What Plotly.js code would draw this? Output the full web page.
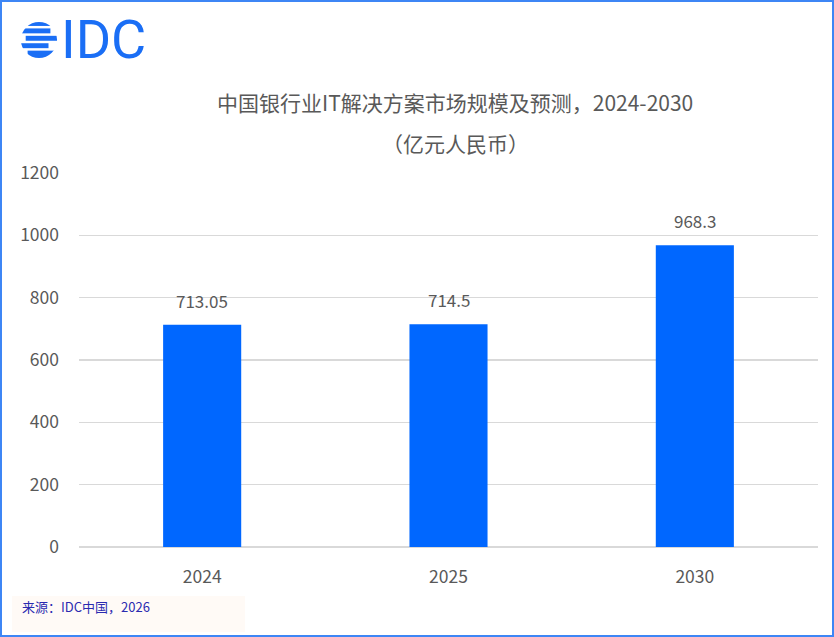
<!DOCTYPE html>
<html>
<head>
<meta charset="utf-8">
<script src="https://cdn.plot.ly/plotly-3.0.1.min.js"></script>
<style>
html,body{margin:0;padding:0;background:#fff;}
#chart{width:834px;height:637px;}
</style>
</head>
<body>
<div id="chart"></div>
<script>
const years = ['2024', '2025', '2030'];
const values = [713.05, 714.5, 968.3];
const valueLabels = ['713.05', '714.5', '968.3'];
const yTicks = [0, 200, 400, 600, 800, 1000, 1200];
const titleLine1 = '中国银行业IT解决方案市场规模及预测，2024-2030';
const titleLine2 = '（亿元人民币）';
const sourceText = '来源：IDC中国，2026';

const W = 834, H = 637;
const M = {l: 79, r: 16, t: 173, b: 90};
const pw = W - M.l - M.r, ph = H - M.t - M.b;
const px = x => (x - M.l) / pw;
const py = y => (H - M.b - y) / ph;

const FONT = '"Noto Sans CJK SC", "Noto Sans", sans-serif';
const GREY = '#595959';

const globeSvg = '<svg xmlns="http://www.w3.org/2000/svg" width="40" height="40" viewBox="0 0 40 40">' +
  '<defs><clipPath id="c"><circle cx="20" cy="20" r="19"/></clipPath></defs>' +
  '<g clip-path="url(#c)" fill="#1a6ef5">' +
  '<rect x="4" y="0" width="32" height="5.2"/>' +
  '<rect x="0" y="7.8" width="32" height="5.2"/>' +
  '<rect x="6" y="15.6" width="34" height="5.2"/>' +
  '<rect x="0" y="23.4" width="30" height="5.2"/>' +
  '<rect x="8" y="31.2" width="32" height="8.8"/>' +
  '</g></svg>';
const globeUri = 'data:image/svg+xml;base64,' + btoa(globeSvg);

const annotations = years.map((yr, i) => ({
  x: i, y: values[i], xref: 'x', yref: 'y',
  text: valueLabels[i], showarrow: false,
  yanchor: 'bottom', yshift: 10,
  font: {family: FONT, size: 17, color: GREY}
}));

annotations.push({
  xref: 'paper', yref: 'paper', x: px(455), y: py(102),
  text: titleLine1, showarrow: false, xanchor: 'center', yanchor: 'middle',
  font: {family: FONT, size: 21, color: GREY}
});
annotations.push({
  xref: 'paper', yref: 'paper', x: px(455), y: py(143),
  text: titleLine2, showarrow: false, xanchor: 'center', yanchor: 'middle',
  font: {family: FONT, size: 21, color: GREY}
});
annotations.push({
  xref: 'paper', yref: 'paper', x: px(20), y: py(606),
  text: sourceText, showarrow: false, xanchor: 'left', yanchor: 'middle',
  font: {family: FONT, size: 13, color: '#2b2bb0'}
});
annotations.push({
  xref: 'paper', yref: 'paper', x: px(59), y: py(40),
  text: 'IDC', showarrow: false, xanchor: 'left', yanchor: 'middle',
  font: {family: 'Roboto, "Noto Sans", sans-serif', size: 54, color: '#1a6ef5'}
});

const shapes = [
  {type: 'rect', xref: 'paper', yref: 'paper', layer: 'below',
   x0: px(12), x1: px(245), y0: py(596), y1: py(632),
   fillcolor: '#fffaf6', line: {width: 0}},
  {type: 'rect', xref: 'paper', yref: 'paper',
   x0: px(1), x1: px(833), y0: py(1), y1: py(636),
   fillcolor: 'rgba(0,0,0,0)', line: {color: '#3d86f5', width: 2}}
];

const data = [{
  type: 'bar', x: years, y: values,
  marker: {color: '#0067ff'}, width: 0.317,
  hoverinfo: 'x+y'
}];

const layout = {
  width: W, height: H,
  margin: M,
  paper_bgcolor: '#ffffff', plot_bgcolor: '#ffffff',
  showlegend: false,
  font: {family: FONT, color: GREY},
  xaxis: {
    type: 'category', range: [-0.5, 2.5], autorange: false,
    showgrid: false, zeroline: false, showline: false,
    ticks: '', tickfont: {family: FONT, size: 17.5, color: GREY},
    ticklabelstandoff: 17
  },
  yaxis: {
    range: [0, 1200], autorange: false, tickvals: yTicks, ticktext: yTicks.map(String),
    showgrid: true, gridcolor: '#d9d9d9', gridwidth: 1.3,
    zeroline: true, zerolinecolor: '#d9d9d9', zerolinewidth: 1.5,
    showline: false, ticks: '',
    tickfont: {family: FONT, size: 17.5, color: GREY},
    ticklabelstandoff: 19
  },
  annotations: annotations,
  shapes: shapes,
  images: [{
    source: globeUri, xref: 'paper', yref: 'paper',
    x: px(20), y: py(21), sizex: 38 / pw, sizey: 38 / ph,
    xanchor: 'left', yanchor: 'top', layer: 'above'
  }]
};

Plotly.newPlot('chart', data, layout, {displayModeBar: false, staticPlot: true});
</script>
</body>
</html>
